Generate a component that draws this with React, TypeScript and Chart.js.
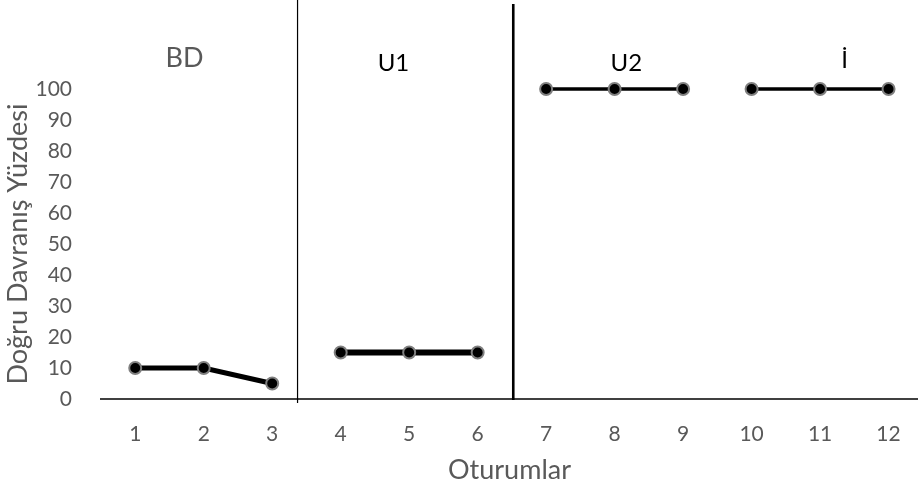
import React, { useEffect, useRef } from "react";
import { Chart, registerables } from "chart.js";

Chart.register(...registerables);

const sessions = [1, 2, 3, 4, 5, 6, 7, 8, 9, 10, 11, 12];
const bdValues = [10, 10, 5];
const u1Values = [15, 15, 15];
const u2Values = [100, 100, 100];
const iValues = [100, 100, 100];
const bdSessions = [1, 2, 3];
const u1Sessions = [4, 5, 6];
const u2Sessions = [7, 8, 9];
const iSessions = [10, 11, 12];
const phaseNames = ["BD", "U1", "U2", "İ"];
const phaseLabelX = [1.72, 4.77, 8.17, 11.36];
const phaseChangeX = [3.37, 6.52];
const yTicks = [0, 10, 20, 30, 40, 50, 60, 70, 80, 90, 100];

const FONT = "Lato, 'Open Sans', sans-serif";
const GREY = "#595959";

const phasePlugin = {
  id: "phases",
  afterDatasetsDraw(chart: any) {
    const { ctx, scales, chartArea } = chart;
    const x = scales.x;
    ctx.save();
    const widths = [1.2, 2.6];
    const tops = [0, 4];
    const bottoms = [4, 1];
    phaseChangeX.forEach((v, i) => {
      const px = x.getPixelForValue(v);
      ctx.beginPath();
      ctx.strokeStyle = "#000";
      ctx.lineWidth = widths[i];
      ctx.moveTo(px, tops[i]);
      ctx.lineTo(px, chartArea.bottom + bottoms[i]);
      ctx.stroke();
    });
    ctx.textAlign = "center";
    ctx.textBaseline = "alphabetic";
    const colors = [GREY, "#000", "#000", "#000"];
    const sizes = [27, 24, 24, 24];
    const baselines = [67, 71, 71, 68];
    phaseNames.forEach((name, i) => {
      ctx.fillStyle = colors[i];
      ctx.font = `${sizes[i]}px ${FONT}`;
      ctx.fillText(name, x.getPixelForValue(phaseLabelX[i]), baselines[i]);
    });
    ctx.restore();
  },
};

function makeSet(xs: number[], ys: number[], width: number) {
  return {
    data: xs.map((s, i) => ({ x: s, y: ys[i] })),
    borderColor: "#000",
    backgroundColor: "#000",
    borderWidth: width,
    pointRadius: 6,
    pointBackgroundColor: "#000",
    pointBorderColor: "#7f7f7f",
    pointBorderWidth: 2,
    tension: 0,
    clip: false,
  };
}

export default function App() {
  const ref = useRef<HTMLCanvasElement>(null);
  useEffect(() => {
    document.body.style.margin = "0";
    const chart = new Chart(ref.current!, {
      type: "line",
      data: {
        datasets: [
          makeSet(bdSessions, bdValues, 5),
          makeSet(u1Sessions, u1Values, 6),
          makeSet(u2Sessions, u2Values, 3.5),
          makeSet(iSessions, iValues, 3.5),
        ],
      },
      options: {
        animation: false,
        responsive: false,
        maintainAspectRatio: false,
        layout: { autoPadding: false, padding: { top: 89, right: 0, bottom: 0, left: 0 } },
        plugins: {
          legend: { display: false },
          tooltip: { enabled: false },
        },
        scales: {
          x: {
            type: "linear",
            min: 0.5,
            max: 12.43,
            afterBuildTicks: (s: any) => {
              s.ticks = sessions.map((v) => ({ value: v }));
            },
            afterFit: (s: any) => {
              s.height = 89;
              s.paddingLeft = 0;
              s.paddingRight = 0;
            },
            grid: { display: false },
            border: { display: true, color: "#404040", width: 2 },
            ticks: {
              padding: 15,
              color: GREY,
              font: { family: FONT, size: 21 },
              maxRotation: 0,
              autoSkip: false,
              callback: (v: any) => String(v),
            },
            title: {
              display: true,
              text: "Oturumlar",
              color: GREY,
              font: { family: FONT, size: 27 },
              padding: { top: 2, bottom: 2 },
            },
          },
          y: {
            min: 0,
            max: 100,
            afterBuildTicks: (s: any) => {
              s.ticks = yTicks.map((v) => ({ value: v }));
            },
            afterFit: (s: any) => {
              s.width = 101;
            },
            grid: { display: false },
            border: { display: false },
            ticks: {
              padding: 21,
              color: GREY,
              font: { family: FONT, size: 21 },
            },
            title: {
              display: true,
              text: "Doğru Davranış Yüzdesi",
              color: GREY,
              font: { family: FONT, size: 27 },
              padding: { top: 2, bottom: 2 },
            },
          },
        },
      },
      plugins: [phasePlugin],
    } as any);
    return () => chart.destroy();
  }, []);
  return (
    <div style={{ width: 918, height: 488 }}>
      <canvas ref={ref} width={918} height={488} style={{ display: "block" }} />
    </div>
  );
}
